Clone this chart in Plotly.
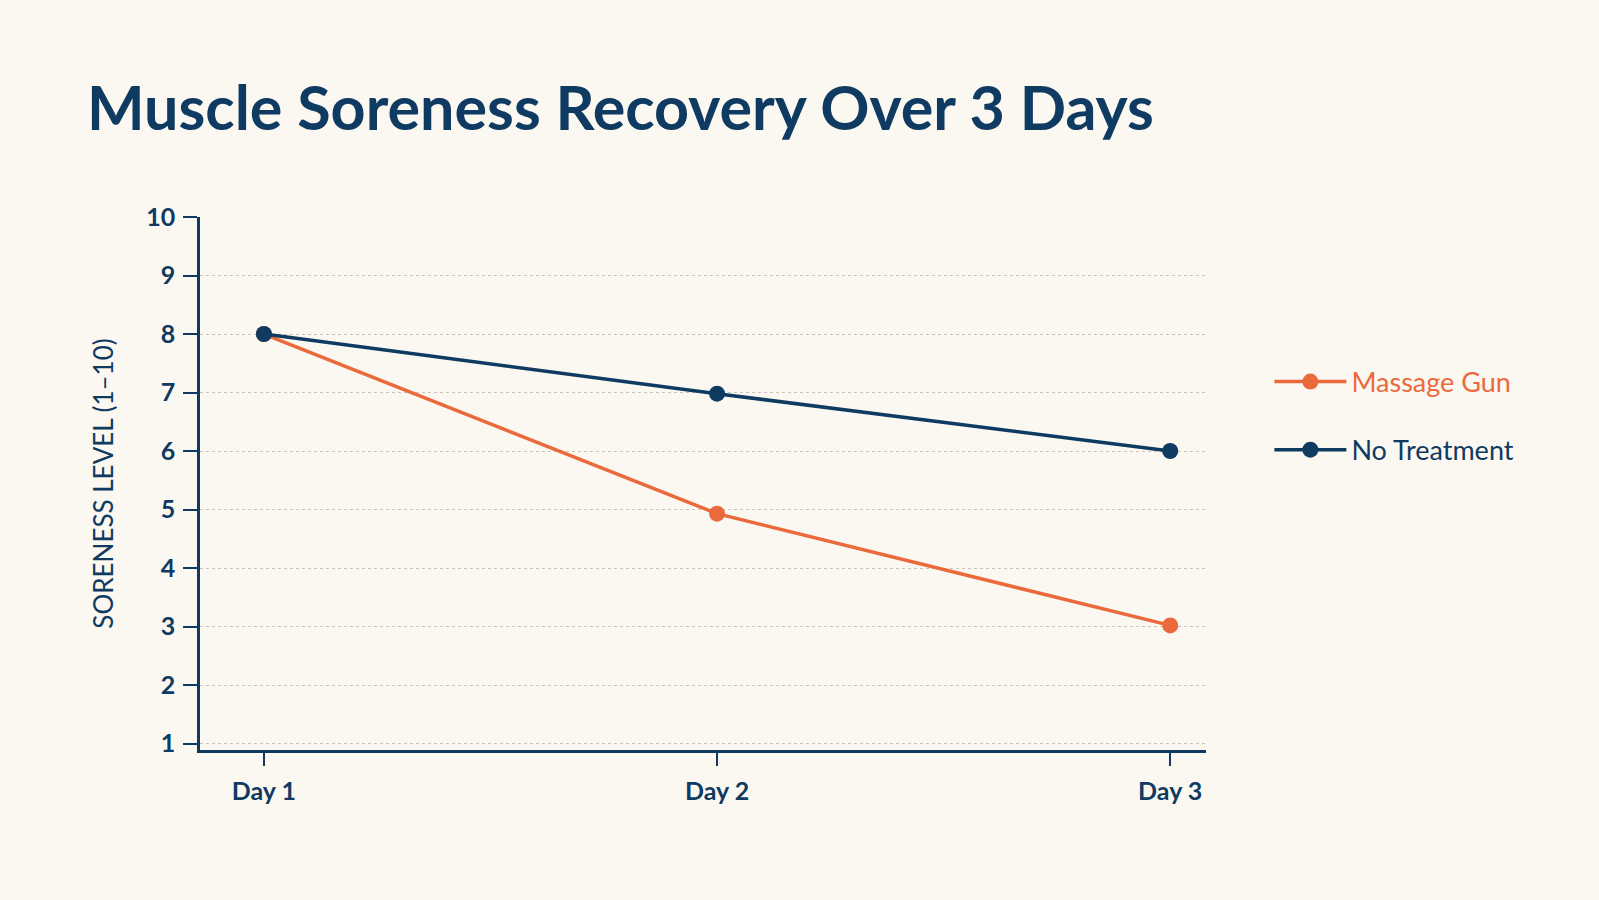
import plotly.graph_objects as go

days = ["Day 1", "Day 2", "Day 3"]
day_pos = [1, 2, 3]
massage_gun = [8, 4.93, 3.02]
no_treatment = [8, 6.98, 6]
y_ticks = [1, 2, 3, 4, 5, 6, 7, 8, 9, 10]

NAVY = "#0f3a61"
ORANGE = "#ea6a3c"
BG = "#fbf8f1"
FONT = "Lato"

fig = go.Figure()
fig.add_trace(go.Scatter(
    x=day_pos, y=massage_gun, mode="lines+markers",
    name=f"<span style='color:{ORANGE}'>Massage Gun</span>", legendgroup="a",
    line=dict(color=ORANGE, width=3.5), marker=dict(color=ORANGE, size=16),
))
fig.add_trace(go.Scatter(
    x=day_pos, y=no_treatment, mode="lines+markers",
    name="No Treatment", legendgroup="b",
    line=dict(color=NAVY, width=3.5), marker=dict(color=NAVY, size=16),
))

fig.update_layout(
    width=1599, height=900,
    paper_bgcolor=BG, plot_bgcolor=BG,
    margin=dict(l=200, r=393, t=217, b=150),
    font=dict(family=FONT, color=NAVY),
    title=dict(
        text="<b>Muscle Soreness Recovery Over 3 Days</b>",
        x=87 / 1599, xanchor="left", y=1 - 109 / 900, yanchor="middle",
        font=dict(family=FONT, size=61, color=NAVY),
    ),
    legend=dict(
        x=1.063, xanchor="left", y=(750 - 416) / 533, yanchor="middle",
        font=dict(family=FONT, size=27, color=NAVY),
        bgcolor="rgba(0,0,0,0)", traceorder="grouped", tracegroupgap=30,
        itemwidth=72,
    ),
    showlegend=True,
)
fig.update_xaxes(
    range=[0.859, 3.079], tickvals=day_pos, ticktext=days,
    showline=True, linecolor=NAVY, linewidth=2.5,
    ticks="outside", ticklen=13, tickwidth=2, tickcolor=NAVY,
    showgrid=False, zeroline=False,
    tickfont=dict(family=FONT, size=25, color=NAVY, weight=700),
    ticklabelstandoff=4,
)
fig.update_yaxes(
    range=[0.89, 10], tickvals=y_ticks,
    showline=True, linecolor=NAVY, linewidth=2.5,
    ticks="outside", ticklen=14, tickwidth=2, tickcolor=NAVY,
    showgrid=True, gridcolor="#c9c4ba", griddash="dot", gridwidth=1.3,
    zeroline=False,
    tickfont=dict(family=FONT, size=25, color=NAVY, weight=700),
    ticklabelstandoff=3,
    title=dict(text="SORENESS LEVEL (1–10)", font=dict(family=FONT, size=26, color=NAVY), standoff=26),
)

fig.write_html("out.html")
